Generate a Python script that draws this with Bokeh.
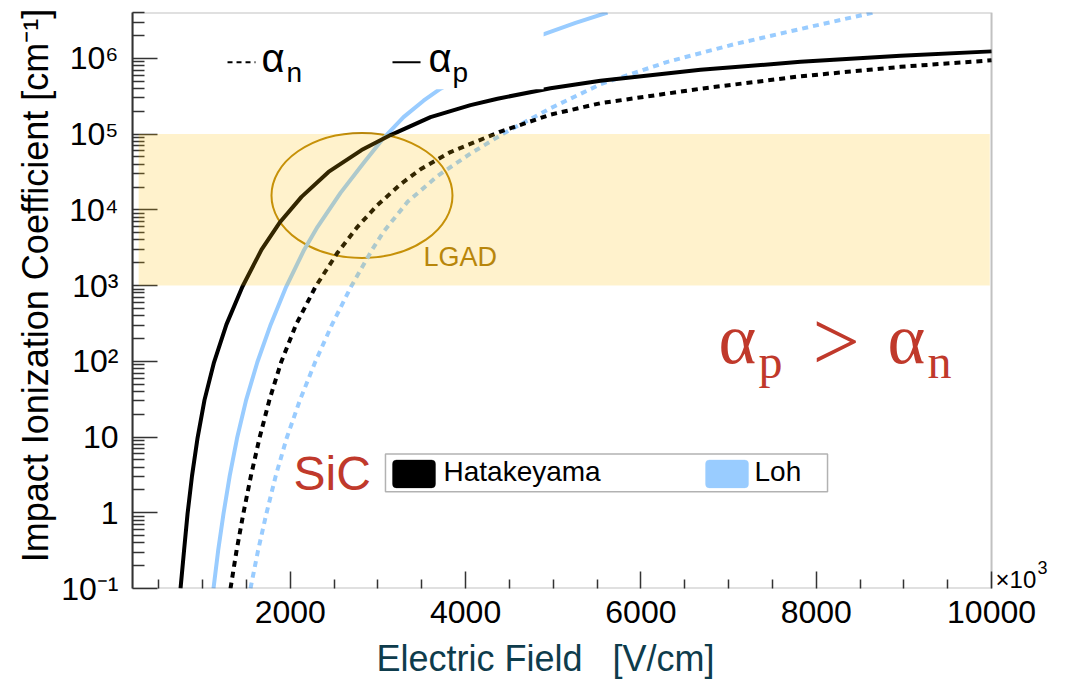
from bokeh.plotting import figure
from bokeh.models import Range1d, FixedTicker, BoxAnnotation, Label, Arrow
from bokeh.embed import file_html
from bokeh.resources import INLINE

# 4H-SiC impact ionization coefficients [1/cm] vs electric field [10^3 V/cm]
hat_p_field = [748, 788, 828, 879, 942, 1021, 1130, 1272, 1455, 1672, 1877, 2128, 2436,
               2813, 3144, 3600, 4056, 4364, 4969, 5539, 6680, 7821, 8962, 10000]
hat_p_alpha = [0.1, 0.316, 0.97, 3.07, 9.7, 30.7, 97.0, 307, 971, 2979, 6745, 14830, 31620,
               61520, 97050, 167500, 241000, 293100, 402700, 505800, 706300, 899500, 1079000, 1236000]

hat_n_field = [1318, 1387, 1464, 1551, 1649, 1761, 1895, 2067, 2289, 2539, 2767, 2995,
               3258, 3486, 3828, 4399, 4969, 5539, 6680, 7821, 8962, 10000]
hat_n_alpha = [0.1, 0.316, 0.97, 3.07, 9.7, 30.7, 97.0, 307, 971, 2718, 5970, 11560,
               21780, 34350, 57940, 107900, 180700, 255900, 397200, 579400, 772700, 941900]

loh_p_field = [1124, 1177, 1238, 1309, 1393, 1496, 1624, 1777, 1954, 2159, 2311, 2573,
               2836, 3064, 3292, 3520, 3714, 4855, 5254, 5619]
loh_p_alpha = [0.1, 0.316, 0.97, 3.07, 9.7, 30.7, 97.0, 307, 971, 2979, 5970, 16750,
               41500, 88510, 167500, 276100, 397200, 2009000, 2931000, 4027000]

loh_n_field = [1546, 1632, 1727, 1834, 1959, 2110, 2283, 2477, 2694, 2934, 3064, 3338,
               3680, 4056, 4433, 4969, 5539, 6304, 7057, 7821, 8654]
loh_n_alpha = [0.1, 0.316, 0.97, 3.07, 9.7, 30.7, 97.0, 307, 971, 2979, 5140, 12740,
               27990, 55340, 101600, 219800, 454900, 899500, 1528000, 2443000, 4027000]

# axis ticks
x_lo, x_hi = 200, 10000
y_lo, y_hi = 0.1, 4.03e6
x_major = [2000, 4000, 6000, 8000, 10000]
x_minor = [v for v in range(500, 10000, 500) if v % 2000 != 0]
y_major = [0.1, 1, 10, 100, 1000, 10000, 100000, 1000000]
y_major_text = ["10\u207b\u00b9", "1", "10", "10\u00b2", "10\u00b3", "10\u2074", "10\u2075", "10\u2076"]
y_minor = [m * 10.0 ** k for k in range(-1, 7) for m in range(2, 10) if m * 10.0 ** k <= y_hi]

# LGAD gain region
lgad_low, lgad_high = 1e3, 1e5

FONT = "Liberation Sans"
SERIF = "Liberation Serif"
RED = "#C0392B"
GOLD = "#B8860B"
SKY = "#99CCFF"
FRAME = "#333333"
NBSP = "\u00a0"

# the x range runs on past the frame edge so the exponent note fits to its right
p = figure(width=1068, height=681, output_backend="svg", toolbar_location=None,
           x_range=Range1d(x_lo, 10878), y_range=Range1d(y_lo, y_hi), y_axis_type="log",
           min_border_left=132, min_border_right=0, min_border_top=12, min_border_bottom=91)
p.grid.visible = False
p.outline_line_color = None
p.background_fill_color = "white"
p.border_fill_color = "white"

# LGAD marker ellipse
p.ellipse(x=[2818], y=[15500], width=181, height=125, width_units="screen",
          height_units="screen", fill_color=None, line_color=GOLD, line_width=2)

# curves
p.line(loh_p_field, loh_p_alpha, line_color=SKY, line_width=4)
p.line(loh_n_field, loh_n_alpha, line_color=SKY, line_width=4, line_dash="6 5")
p.line(hat_p_field, hat_p_alpha, line_color="black", line_width=4)
p.line(hat_n_field, hat_n_alpha, line_color="black", line_width=4, line_dash="6 5")

# shaded LGAD band
p.add_layout(BoxAnnotation(left=270, right=9980, bottom=lgad_low, top=lgad_high,
                           fill_color="#FFC000", fill_alpha=0.2, line_alpha=0))
p.add_layout(Label(x=3520, y=2355, text="LGAD", text_font=FONT, text_font_size="27px",
                   text_color=GOLD, text_baseline="alphabetic"))

# plot frame
p.add_layout(BoxAnnotation(left=x_lo, right=x_hi, bottom=y_lo, top=y_hi, fill_alpha=0,
                           line_color=FRAME, line_width=2))

# carrier-type key (white panel)
p.add_layout(BoxAnnotation(left=1150, right=4890, bottom=3.91e5, top=2.48e6,
                           fill_color="white", fill_alpha=1, line_alpha=0))
p.add_layout(Arrow(x_start=1284, y_start=8.86e5, x_end=1603, y_end=8.86e5, start=None, end=None,
                   line_color="black", line_width=2, line_dash="5 4"))
p.add_layout(Arrow(x_start=3166, y_start=8.86e5, x_end=3486, y_end=8.86e5, start=None, end=None,
                   line_color="black", line_width=2))
for xx, yy, txt, size in [(1672, 1.007e6, "\u03b1", "40px"), (1957, 6.47e5, "n", "28px"),
                          (3577, 1.007e6, "\u03b1", "40px"), (3851, 6.47e5, "p", "28px")]:
    p.add_layout(Label(x=xx, y=yy, text=txt, text_font=FONT, text_font_size=size,
                       text_color="black", text_baseline="alphabetic"))

# model key
p.add_layout(BoxAnnotation(left=3086, right=8129, bottom=1.89, top=5.97,
                           fill_color="white", fill_alpha=1, line_color="black", line_width=1.5))
p.add_layout(BoxAnnotation(left=3166, right=3657, bottom=2.13, top=4.98, border_radius=4,
                           fill_color="black", fill_alpha=1, line_color="black"))
p.add_layout(BoxAnnotation(left=6737, right=7228, bottom=2.13, top=4.98, border_radius=4,
                           fill_color=SKY, fill_alpha=1, line_color=SKY))
p.add_layout(Label(x=3748, y=3.53, text="Hatakeyama", text_font=FONT, text_font_size="28px",
                   text_color="black", text_baseline="alphabetic"))
p.add_layout(Label(x=7296, y=3.53, text="Loh", text_font=FONT, text_font_size="28px",
                   text_color="black", text_baseline="alphabetic"))
p.add_layout(Label(x=2037, y=3.28, text="SiC", text_font=FONT, text_font_size="48px",
                   text_color=RED, text_baseline="alphabetic"))

# alpha_p > alpha_n
for xx, yy, txt, size in [(6886, 197, "\u03b1", "72px"), (7342, 100.7, "p", "48px"),
                          (7958, 180, ">", "84px"), (8814, 197, "\u03b1", "72px"),
                          (9270, 100.7, "n", "48px")]:
    p.add_layout(Label(x=xx, y=yy, text=txt, text_font=SERIF, text_font_size=size,
                       text_color=RED, text_baseline="alphabetic"))

# x-axis exponent note
p.add_layout(Label(x=10046, y=0.132, text="\u00d710", text_font=FONT, text_font_size="24px",
                   text_color="black", text_baseline="alphabetic"))
p.add_layout(Label(x=10525, y=0.188, text="3", text_font=FONT, text_font_size="18px",
                   text_color="black", text_baseline="alphabetic"))

# axes
xa = p.xaxis[0]
xa.ticker = FixedTicker(ticks=x_major, minor_ticks=x_minor)
xa.axis_label = "Electric Field" + NBSP * 2 + " [V/cm]" + NBSP * 11
xa.axis_label_text_color = "#0E3C4C"
xa.major_tick_in, xa.major_tick_out = 17, 0
xa.minor_tick_in, xa.minor_tick_out = 9, 0
xa.major_label_standoff = 12
xa.axis_label_standoff = 12
xa.axis_line_color = None

ya = p.yaxis[0]
ya.ticker = FixedTicker(ticks=y_major, minor_ticks=y_minor)
ya.major_label_overrides = dict(zip(y_major, y_major_text))
ya.axis_label = NBSP * 3 + "Impact Ionization Coefficient [cm\u207b\u00b9]"
ya.axis_label_text_color = "black"
ya.major_tick_in, ya.major_tick_out = 25, 0
ya.minor_tick_in, ya.minor_tick_out = 12, 0
ya.major_label_standoff = 14
ya.axis_label_standoff = 2
ya.axis_line_color = FRAME
ya.axis_line_width = 2

for ax in (xa, ya):
    ax.major_tick_line_color = FRAME
    ax.minor_tick_line_color = FRAME
    ax.major_tick_line_width = 1.5
    ax.minor_tick_line_width = 1.5
    ax.major_label_text_font = FONT
    ax.major_label_text_font_size = "32px"
    ax.major_label_text_color = "black"
    ax.axis_label_text_font = FONT
    ax.axis_label_text_font_size = "36px"
    ax.axis_label_text_font_style = "normal"

open("out.html", "w").write(file_html(p, INLINE))
